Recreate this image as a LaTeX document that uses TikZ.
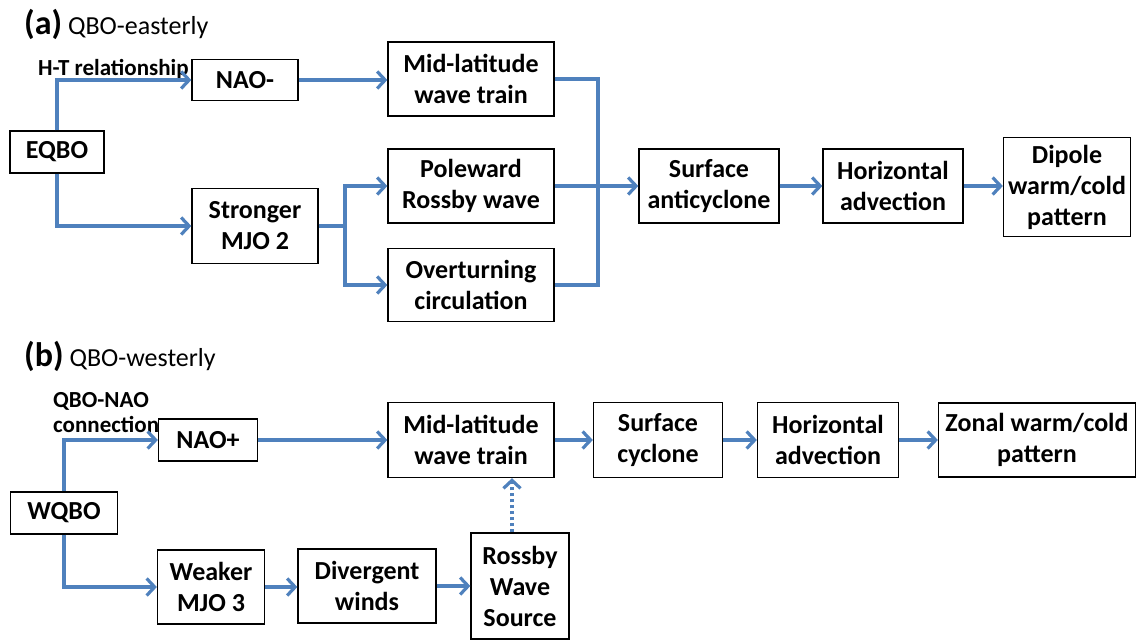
\documentclass[tikz,border=0pt]{standalone}
\usepackage{fontspec}
\setmainfont{Carlito}
\usepackage{xcolor}
\usetikzlibrary{arrows.meta, positioning, calc}

\definecolor{linkblue}{HTML}{4F81BD}

\begin{document}
\begin{tikzpicture}[
  x=1pt, y=-1pt,
  box/.style={rectangle, draw, line width=1.3pt, inner sep=0pt, align=center, font=\fontsize{26}{31}\selectfont\bfseries},
  flow/.style={draw=linkblue, line width=3.2pt, -{Straight Barb[length=8pt, width=17pt]}},
  link/.style={draw=linkblue, line width=3.2pt},
  note/.style={font=\fontsize{23}{25}\selectfont\bfseries, align=left, inner sep=0pt},
  title/.style={anchor=base west, inner sep=0pt, font=\fontsize{26}{28}\selectfont}
]
  \useasboundingbox (0,0) rectangle (1137,640);

  % (a) QBO-easterly
  \node[title] (tita) at (24,34) {{\fontsize{34}{34}\selectfont\bfseries (a)} QBO-easterly};
  \node[box, minimum width=94,  minimum height=42] (eqbo)    at (57,152)   {EQBO};
  \node[box, minimum width=106, minimum height=41] (naom)    at (245,80)   {NAO-};
  \node[box, minimum width=126, minimum height=75] (mjo2)    at (255,226)  {Stronger\\MJO 2};
  \node[box, minimum width=166, minimum height=74] (wavea)   at (471,79)   {Mid-latitude\\wave train};
  \node[box, minimum width=166, minimum height=74] (rossbya) at (471,186)  {Poleward\\Rossby wave};
  \node[box, minimum width=166, minimum height=73] (turn)    at (471,285)  {Overturning\\circulation};
  \node[box, minimum width=140, minimum height=74] (anti)    at (709,186)  {Surface\\anticyclone};
  \node[box, minimum width=140, minimum height=74] (adva)    at (893,186)  {Horizontal\\advection};
  \node[box, minimum width=127, minimum height=99] (dipole)  at (1067,187) {Dipole\\warm/cold\\pattern};
  \node[note, anchor=base west] (htlab) at (38,75) {H-T relationship};

  \coordinate (splita) at (345,0);
  \coordinate (mergea) at (598,0);

  \draw[flow] (eqbo.north) |- (naom.west);
  \draw[flow] (eqbo.south) |- (mjo2.west);
  \draw[flow] (naom.east) -- (naom.east -| wavea.west);
  \draw[link] (mjo2.east) -- (mjo2.east -| splita);
  \draw[flow] (mjo2.east -| splita) |- (rossbya.west);
  \draw[flow] (mjo2.east -| splita) |- (turn.west);
  \draw[link] (wavea.east) -| (mergea |- turn.east) -- (turn.east);
  \draw[flow] (rossbya.east) -- (anti.west);
  \draw[flow] (anti) -- (adva);
  \draw[flow] (adva.east) -- (adva.east -| dipole.west);

  % (b) QBO-westerly
  \node[title] (titb) at (24,366) {{\fontsize{34}{34}\selectfont\bfseries (b)} QBO-westerly};
  \node[box, minimum width=107, minimum height=42]  (wqbo)  at (64,513)   {WQBO};
  \node[box, minimum width=99,  minimum height=42]  (naop)  at (208,440)  {NAO+};
  \node[box, minimum width=107, minimum height=74]  (mjo3)  at (211,587)  {Weaker\\MJO 3};
  \node[box, minimum width=138, minimum height=74]  (divw)  at (367,586)  {Divergent\\winds};
  \node[box, minimum width=98,  minimum height=106] (rws)   at (520,586)  {Rossby\\Wave\\Source};
  \node[box, minimum width=166, minimum height=75]  (waveb) at (471,440)  {Mid-latitude\\wave train};
  \node[box, minimum width=129, minimum height=75]  (cyc)   at (658,440)  {Surface\\cyclone};
  \node[box, minimum width=141, minimum height=75]  (advb)  at (828,440)  {Horizontal\\advection};
  \node[box, minimum width=197, minimum height=74]  (zonal) at (1037,440) {Zonal warm/cold\\pattern};
  \node[note, anchor=north west] (qnlab) at (53,392) {QBO-NAO\\connection};

  \draw[flow] (wqbo.north) |- (naop.west);
  \draw[flow] (wqbo.south) |- (mjo3.west);
  \draw[flow] (naop) -- (waveb);
  \draw[flow] (mjo3.east) -- (mjo3.east -| divw.west);
  \draw[flow] (divw.east) -- (divw.east -| rws.west);
  \draw[flow, dash pattern=on 3pt off 3pt] ([xshift=-8pt]rws.north) -- ([xshift=-8pt]rws.north |- waveb.south);
  \draw[flow] (waveb) -- (cyc);
  \draw[flow] (cyc) -- (advb);
  \draw[flow] (advb) -- (zonal);
\end{tikzpicture}
\end{document}
